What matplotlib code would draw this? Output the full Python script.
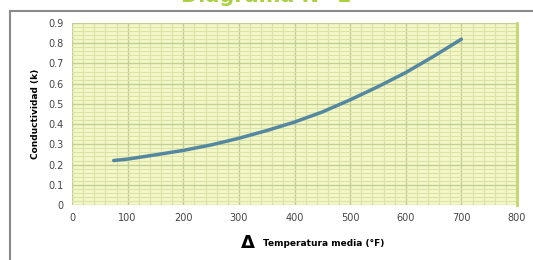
import numpy as np
import matplotlib.pyplot as plt
from matplotlib.patches import Rectangle
from matplotlib.ticker import MultipleLocator

# datos
temperatura = [75, 100, 150, 200, 250, 300, 350, 400, 450, 500, 550, 600, 650, 700]
conductividad = [0.22, 0.227, 0.248, 0.27, 0.297, 0.33, 0.368, 0.41, 0.46,
                 0.52, 0.585, 0.655, 0.735, 0.82]

fig = plt.figure(figsize=(5.33, 2.6), dpi=100)
ax = fig.add_axes([72 / 533, 55 / 260, 445 / 533, 182 / 260])

# marco exterior
fig.patches.append(Rectangle((10 / 533, -0.1), 1.0, (260 - 11) / 260 + 0.1,
                             transform=fig.transFigure, fill=False,
                             edgecolor='#8a8a8a', linewidth=1.5))

# titulo cortado arriba
fig.text(0.5, 1 - 1.5 / 260, 'Diagrama N° 1', color='#a8d040', fontsize=15,
         fontweight='bold', ha='center', va='baseline')

ax.set_facecolor('#f4f7c8')
ax.plot(temperatura, conductividad, color='#5487a0', linewidth=2.5,
        solid_capstyle='round', solid_joinstyle='round')

ax.set_xlim(0, 800)
ax.set_ylim(0, 0.9)
ax.xaxis.set_major_locator(MultipleLocator(100))
ax.xaxis.set_minor_locator(MultipleLocator(20))
ax.yaxis.set_major_locator(MultipleLocator(0.1))
ax.yaxis.set_minor_locator(MultipleLocator(0.02))
ax.grid(which='minor', color='#dbe3a6', linewidth=0.8)
ax.grid(which='major', color='#c3cf95', linewidth=1.0)
ax.set_axisbelow(True)

ax.set_xticks(np.arange(0, 801, 100))
ax.set_xticklabels([str(v) for v in range(0, 801, 100)])
ax.set_yticks(np.arange(0, 0.91, 0.1))
ax.set_yticklabels(['0'] + ['%.1f' % v for v in np.arange(0.1, 0.91, 0.1)])
ax.tick_params(which='both', length=0, labelsize=7, colors='#444444', pad=6)

for s in ax.spines.values():
    s.set_visible(False)
ax.spines['right'].set_visible(True)
ax.spines['right'].set_color('#c9d46a')
ax.spines['right'].set_linewidth(2)

ax.set_ylabel('Conductividad (k)', fontsize=6.5, fontweight='bold', labelpad=6)
fig.text(248 / 533, 1 - 243 / 260, 'Δ', fontsize=13, fontweight='bold',
         ha='center', va='center')
fig.text(263 / 533, 1 - 243 / 260, 'Temperatura media (°F)', fontsize=6.5,
         fontweight='bold', ha='left', va='center')

plt.savefig('out.png', dpi=100)
